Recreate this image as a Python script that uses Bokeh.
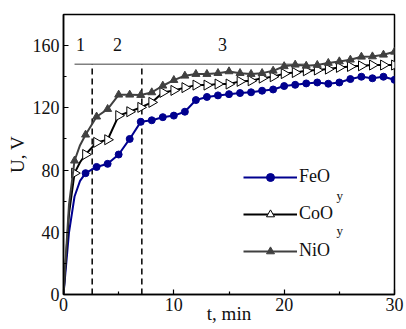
import math
from bokeh.plotting import figure
from bokeh.models import Label, Legend, LegendItem, Range1d, FixedTicker
from bokeh.core.properties import value
from bokeh.embed import file_html
from bokeh.resources import INLINE

# ---- data ----
t_start = [0, 0.5, 1, 1.5]
feo_start = [0, 40, 63, 73]
coo_start = [0, 52, 78, 85]
nio_start = [0, 58, 86, 96]

t_min = list(range(2, 31))
feo = [78, 82, 84, 90, 100, 111, 112, 114, 115, 117.5, 125, 127, 128, 128.8, 129.5, 130,
       131, 131.8, 134, 134.8, 135.7, 136.3, 135.5, 136.3, 138.5, 140, 139, 140, 138]
coo = [90, 97.8, 99.5, 115, 117.5, 120.3, 123.5, 129.9, 131.2, 133, 134.6, 134.6, 135.3,
       135.3, 137, 137.4, 139.1, 140, 142, 142.7, 143.8, 144.3, 144.9, 146, 146.6, 147,
       147.5, 147.5, 147.5]
nio = [102.7, 114.3, 119.2, 128.4, 128.4, 128.2, 129.9, 134.2, 137.8, 140.6, 141.7, 141.7,
       142.3, 143.4, 142.3, 141.7, 142.3, 143.8, 146.7, 147.7, 147, 147.5, 148.8, 149.8,
       150.9, 152.8, 153, 154.1, 156]

threshold_U = 148
threshold_t = [1, 22]
phase_bounds = [2.6, 7.1]
phase_names = ["1", "2", "3"]
phase_label_t = [1.55, 4.9, 14.4]
phase_label_U = [160.5, 160.5, 160.5]

x_ticks = [0, 10, 20, 30]
y_ticks = [0, 40, 80, 120, 160]

SERIF = "Liberation Serif"
FE_COLOR = "#00008f"
NI_COLOR = "#404040"

p = figure(width=406, height=329, output_backend="svg", toolbar_location=None,
           x_range=Range1d(0, 30), y_range=Range1d(0, 180),
           min_border_left=63, min_border_right=12, min_border_top=14, min_border_bottom=35)
p.xgrid.visible = False
p.ygrid.visible = False
p.outline_line_color = "black"
p.outline_line_width = 1.5
p.background_fill_color = "white"
p.border_fill_color = "white"

for ax in (p.xaxis[0], p.yaxis[0]):
    ax.axis_line_color = "black"
    ax.axis_line_width = 1.5
    ax.major_tick_in = 5
    ax.major_tick_out = 0
    ax.minor_tick_in = 3
    ax.minor_tick_out = 0
    ax.major_tick_line_color = "black"
    ax.minor_tick_line_color = "black"
    ax.major_tick_line_width = 1.2
    ax.minor_tick_line_width = 1.2
    ax.major_label_text_font = SERIF
    ax.major_label_text_font_size = "18px"
    ax.major_label_text_color = "#111111"
    ax.major_label_standoff = 3
    ax.axis_label_text_font = SERIF
    ax.axis_label_text_font_size = "19px"
    ax.axis_label_text_font_style = "normal"
    ax.axis_label_text_color = "#111111"

p.xaxis[0].ticker = FixedTicker(ticks=x_ticks, minor_ticks=[5, 15, 25])
p.yaxis[0].ticker = FixedTicker(ticks=y_ticks, minor_ticks=[20, 60, 100, 140])
p.yaxis[0].major_label_standoff = 4
p.yaxis[0].axis_label = "U, V"
p.yaxis[0].axis_label_standoff = 2
p.xaxis[0].axis_label = "t, min"
p.xaxis[0].axis_label_standoff = -11

# threshold line and phase boundaries
p.line(threshold_t, [threshold_U, threshold_U], line_color="#808080", line_width=1.5)
p.segment(x0=phase_bounds, y0=[0, 0], x1=phase_bounds, y1=[threshold_U, threshold_U],
          line_color="black", line_width=1.5, line_dash="6 4")
p.text(x=phase_label_t, y=phase_label_U, text=phase_names, text_font=value(SERIF),
       text_font_size="18px", text_align="center", text_baseline="middle", text_color="#111111")

# curves
fe_line = p.line(t_start + t_min, feo_start + feo, line_color=FE_COLOR, line_width=2)
fe_pts = p.scatter(t_min, feo, marker="circle", size=7, fill_color=FE_COLOR, line_color=FE_COLOR)

co_line = p.line(t_start + t_min, coo_start + coo, line_color="black", line_width=2)
co_pts = p.scatter(t_start[2:3] + t_min, coo_start[2:3] + coo, marker="triangle", angle=-math.pi / 2,
                   size=10, fill_color="white", line_color="black", line_width=1)

ni_line = p.line(t_start + t_min, nio_start + nio, line_color=NI_COLOR, line_width=2)
ni_pts = p.scatter(t_start[2:3] + t_min, nio_start[2:3] + nio, marker="triangle", size=8,
                   fill_color=NI_COLOR, line_color=NI_COLOR)

legend = Legend(items=[
    LegendItem(label="FeO", renderers=[fe_line, fe_pts]),
    LegendItem(label="CoO", renderers=[co_line, co_pts]),
    LegendItem(label="NiO", renderers=[ni_line, ni_pts]),
], location=(180, 33), padding=0, margin=0, spacing=16, glyph_width=54, glyph_height=20,
    label_standoff=2, label_text_font=SERIF, label_text_font_size="18px",
    label_text_color="#111111", border_line_alpha=0, background_fill_alpha=0)
p.add_layout(legend)

for yy in (99, 64):
    p.add_layout(Label(x=273, y=yy, x_units="screen", y_units="screen", text="y",
                       text_font=SERIF, text_font_size="13px", text_color="#111111",
                       text_baseline="middle", text_align="left"))

open("out.html", "w").write(file_html(p, INLINE))
